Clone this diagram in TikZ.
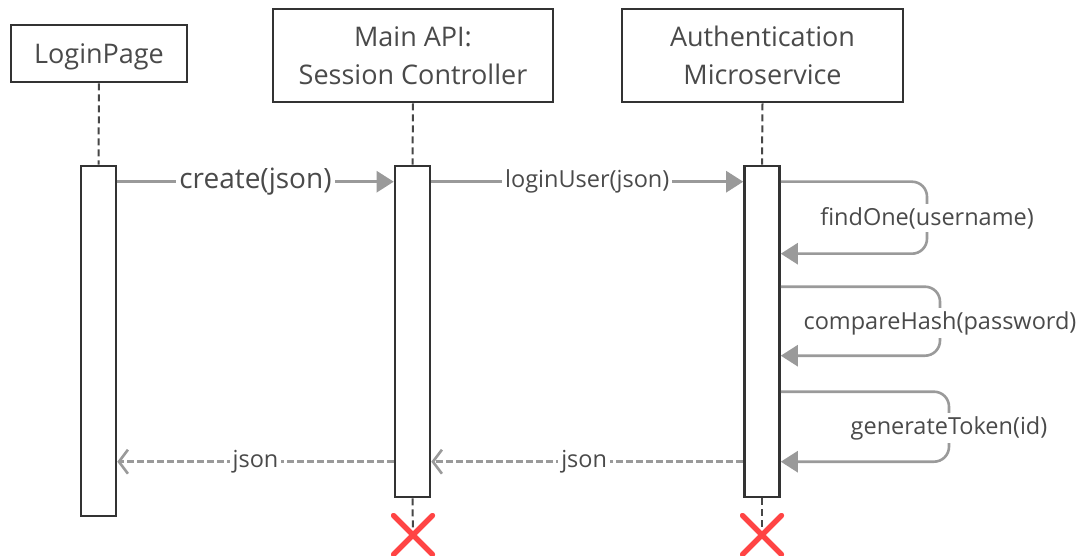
\documentclass[tikz,border=0pt]{standalone}
\usepackage{fontspec}
\setmainfont{Open Sans}
\usetikzlibrary{arrows.meta,shapes.misc}
\definecolor{edge}{HTML}{333333}
\definecolor{msgline}{HTML}{9A9A9A}
\definecolor{txt}{HTML}{4A4A4A}
\definecolor{killred}{HTML}{FF4444}
\tikzset{
  actor/.style={draw=edge, line width=2.6pt, fill=white, text=txt, align=center,
    font=\fontsize{27}{38}\selectfont, inner sep=0pt, text depth=0pt},
  bar/.style={draw=edge, line width=2.6pt, fill=white, minimum width=35pt, inner sep=0pt},
  life/.style={draw=edge!90, line width=2pt, dash pattern=on 7pt off 4pt},
  msg/.style={draw=msgline, line width=2.6pt, -{Triangle[length=17pt,width=21pt]}},
  ret/.style={draw=msgline, line width=2.6pt, dash pattern=on 7pt off 3pt,
    -{Straight Barb[length=9pt,width=24pt,line width=2.6pt]}},
  self/.style={draw=msgline, line width=2.6pt, rounded corners=15pt,
    -{Triangle[length=17pt,width=21pt]}},
  lbl/.style={fill=white, text=txt, inner sep=3pt, font=\fontsize{23.5}{28}\selectfont},
  kill/.style={cross out, draw=killred, line width=5pt, line cap=round,
    minimum width=34pt, minimum height=34pt, inner sep=0pt}
}
\begin{document}
\begin{tikzpicture}[x=1pt,y=-1pt]
\useasboundingbox[fill=white] (0,0) rectangle (1079,556);

% participants
\node[actor, minimum width=176pt, minimum height=57pt] (login) at (99,53.5) {LoginPage};
\node[actor, minimum width=280pt, minimum height=93pt] (api) at (413,55.5) {Main API:\\Session Controller};
\node[actor, minimum width=281pt, minimum height=93pt] (auth) at (762.5,55.5) {Authentication\\Microservice};

% activation bars
\node[bar, minimum height=350pt] (lbar) at (98.5,341) {};
\node[bar, minimum height=331pt] (abar) at (412.5,331.5) {};
\node[bar, minimum height=331pt] (sbar) at (762,331.5) {};

% lifelines
\draw[life] (login.south) -- (lbar.north);
\draw[life] (api.south) -- (abar.north);
\draw[life] (auth.south) -- (sbar.north);

% destruction marks
\node[kill] (akill) at (413,535) {};
\node[kill] (skill) at (762,535) {};
\draw[life] (abar.south) -- (akill.center);
\draw[life] (sbar.south) -- (skill.center);
\node[kill] at (akill) {};
\node[kill] at (skill) {};

% calls
\draw[msg] ([yshift=-17pt]lbar.north east) -- node[lbl, font=\fontsize{28}{32}\selectfont] {create(json)} ([yshift=-17pt]abar.north west);
\draw[msg] ([yshift=-17pt]abar.north east) -- node[lbl] {loginUser(json)} ([yshift=-17pt]sbar.north west);

% self calls on the microservice
\coordinate (f1) at (927,218);
\coordinate (f2) at (940,323);
\coordinate (f3) at (949,428);
\draw[self] ([yshift=-17pt]sbar.north east) -| (f1) |- ([yshift=-89pt]sbar.north east);
\node[lbl] at (f1) {findOne(username)};
\draw[self] ([yshift=-122pt]sbar.north east) -| (f2) |- ([yshift=-191pt]sbar.north east);
\node[lbl] at (f2) {compareHash(password)};
\draw[self] ([yshift=-227pt]sbar.north east) -| (f3) |- ([yshift=-297pt]sbar.north east);
\node[lbl] at (f3) {generateToken(id)};

% replies
\draw[ret] ([yshift=-297pt]sbar.north west) -- node[lbl, pos=0.51] {json} ([yshift=-297pt]abar.north east);
\draw[ret] ([yshift=-297pt]abar.north west) -- node[lbl] {json} ([yshift=-297pt]lbar.north east);
\end{tikzpicture}
\end{document}
